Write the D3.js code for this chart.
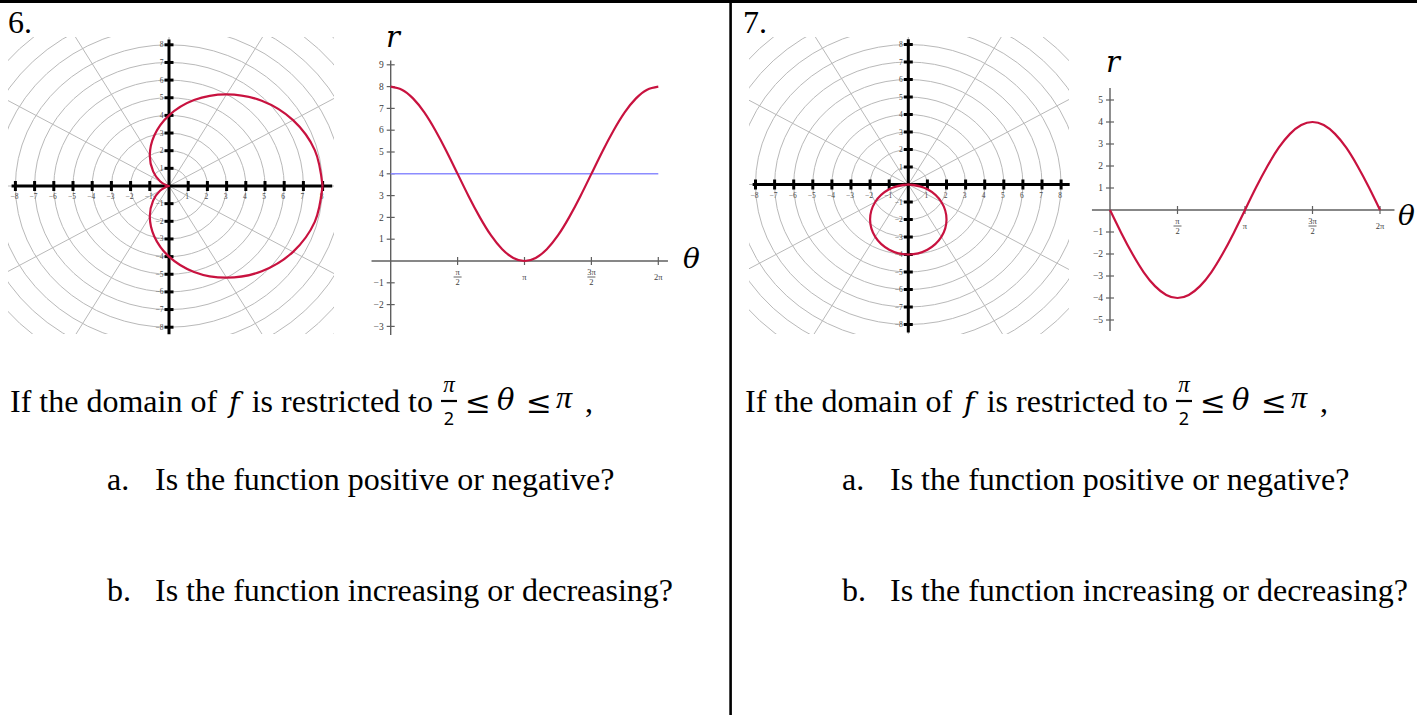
<!DOCTYPE html>
<html>
<head>
<meta charset="utf-8">
<script src="https://cdn.jsdelivr.net/npm/d3@7"></script>
<style>
  html, body { margin: 0; padding: 0; background: #fff; }
  svg { display: block; }
</style>
</head>
<body>
<svg id="sheet" width="1417" height="715"></svg>
<script>
// ---- data -------------------------------------------------------------
// sample angles, counted in steps of π/12 from 0 to 2π
const thetaTwelfths = [0,1,2,3,4,5,6,7,8,9,10,11,12,13,14,15,16,17,18,19,20,21,22,23,24];

// problem 6: r = f(θ), cardioid
const cardioidR = [8.00, 7.86, 7.46, 6.83, 6.00, 5.04, 4.00, 2.96, 2.00, 1.17, 0.54, 0.14, 0.00,
                   0.14, 0.54, 1.17, 2.00, 2.96, 4.00, 5.04, 6.00, 6.83, 7.46, 7.86, 8.00];
// horizontal reference level on the r–θ graph of problem 6
const midlineR = 4;

// problem 7: r = f(θ), circle below the pole
const circleR = [0.00, -1.04, -2.00, -2.83, -3.46, -3.86, -4.00, -3.86, -3.46, -2.83, -2.00, -1.04, 0.00,
                 1.04, 2.00, 2.83, 3.46, 3.86, 4.00, 3.86, 3.46, 2.83, 2.00, 1.04, 0.00];

// polar grid
const polarTicks = [-8,-7,-6,-5,-4,-3,-2,-1,1,2,3,4,5,6,7,8];
const gridRings = [1,2,3,4,5,6,7,8,9,10,11,12,13];
const gridSpokesDeg = [0,30,60,90,120,150,180,210,240,270,300,330];

// r–θ graphs
const rTicks6 = [-3,-2,-1,1,2,3,4,5,6,7,8,9];
const rTicks7 = [-5,-4,-3,-2,-1,1,2,3,4,5];
const thetaTickHalves = [1, 2, 3, 4];           // multiples of π/2
const thetaTickNum = ["π", "π", "3π", "2π"];
const thetaTickDen = ["2", "", "2", ""];

// ---- styles ----------------------------------------------------------
const RED = "#c8123f";
const BLUE = "#8c8cff";
const GRID = "#b9b9b9";
const SERIF = "'Liberation Serif', 'Times New Roman', serif";
const MATH = "'DejaVu Serif', serif";

const svg = d3.select("#sheet");

// table frame
svg.append("rect").attr("x", 0).attr("y", 0).attr("width", 1417).attr("height", 3).attr("fill", "#000");
svg.append("rect").attr("x", 729.3).attr("y", 0).attr("width", 2.6).attr("height", 715).attr("fill", "#000");

// ---- polar plot --------------------------------------------------------
function polarPlot(cfg, rValues) {
  const g = svg.append("g");
  const x = d3.scaleLinear().domain([-8, 8]).range([cfg.cx - 8 * cfg.ux, cfg.cx + 8 * cfg.ux]);
  const y = d3.scaleLinear().domain([-8, 8]).range([cfg.cy + 8 * cfg.uy, cfg.cy - 8 * cfg.uy]);

  g.append("clipPath").attr("id", cfg.id)
    .append("rect").attr("x", cfg.clip[0]).attr("y", cfg.clip[1])
    .attr("width", cfg.clip[2]).attr("height", cfg.clip[3]);

  const grid = g.append("g").attr("clip-path", `url(#${cfg.id})`)
    .attr("fill", "none").attr("stroke", GRID).attr("stroke-width", 1);

  grid.selectAll("ellipse").data(gridRings).join("ellipse")
    .attr("cx", x(0)).attr("cy", y(0))
    .attr("rx", d => x(d) - x(0)).attr("ry", d => y(0) - y(d));

  grid.selectAll("line").data(gridSpokesDeg).join("line")
    .attr("x1", x(0)).attr("y1", y(0))
    .attr("x2", d => x(16 * Math.cos(d * Math.PI / 180)))
    .attr("y2", d => y(16 * Math.sin(d * Math.PI / 180)));

  // axes
  const ax = g.append("g").attr("stroke", "#000");
  ax.append("line").attr("x1", x(cfg.xExt[0])).attr("x2", x(cfg.xExt[1]))
    .attr("y1", y(0)).attr("y2", y(0)).attr("stroke-width", 3);
  ax.append("line").attr("y1", y(cfg.yExt[0])).attr("y2", y(cfg.yExt[1]))
    .attr("x1", x(0)).attr("x2", x(0)).attr("stroke-width", 3);
  ax.selectAll(".tx").data(polarTicks).join("line").attr("class", "tx")
    .attr("x1", d => x(d)).attr("x2", d => x(d))
    .attr("y1", y(0) - 5).attr("y2", y(0) + 5).attr("stroke-width", 3);
  ax.selectAll(".ty").data(polarTicks).join("line").attr("class", "ty")
    .attr("y1", d => y(d)).attr("y2", d => y(d))
    .attr("x1", x(0) - 4.5).attr("x2", x(0) + 4.5).attr("stroke-width", 3);

  const lab = g.append("g").attr("font-family", SERIF).attr("font-size", 7.5).attr("fill", "#4a4a4a");
  lab.selectAll(".lx").data(polarTicks).join("text").attr("class", "lx")
    .attr("x", d => x(d) - 1).attr("y", y(0) + 13).attr("text-anchor", "middle")
    .text(d => d < 0 ? "−" + Math.abs(d) : d);
  lab.selectAll(".ly").data(polarTicks).join("text").attr("class", "ly")
    .attr("x", x(0) - 5.5).attr("y", d => y(d) + 2.5).attr("text-anchor", "end")
    .text(d => d < 0 ? "−" + Math.abs(d) : d);

  // the curve r = f(θ)
  const pts = thetaTwelfths.map((k, i) => {
    const t = k * Math.PI / 12;
    return [x(rValues[i] * Math.cos(t)), y(rValues[i] * Math.sin(t))];
  });
  g.append("path").attr("d", d3.line().curve(d3.curveCatmullRom.alpha(0.5))(pts))
    .attr("fill", "none").attr("stroke", RED).attr("stroke-width", 2.2);
}

// ---- r versus θ graph --------------------------------------------------
function rthetaPlot(cfg, rValues, rTicks, midline) {
  const g = svg.append("g");
  const x = d3.scaleLinear().domain([0, 2 * Math.PI]).range([cfg.x0, cfg.x0 + 4 * cfg.uHalf]);
  const y = d3.scaleLinear().domain([0, 1]).range([cfg.y0, cfg.y0 - cfg.uy]);
  const AX = "#5f5f5f";

  g.append("line").attr("x1", x(cfg.xExt[0])).attr("x2", x(cfg.xExt[1]))
    .attr("y1", y(0)).attr("y2", y(0)).attr("stroke", AX).attr("stroke-width", 1.4);
  g.append("line").attr("x1", x(0)).attr("x2", x(0))
    .attr("y1", y(cfg.yExt[0])).attr("y2", y(cfg.yExt[1])).attr("stroke", AX).attr("stroke-width", 1.4);

  g.selectAll(".ty").data(rTicks).join("line").attr("class", "ty")
    .attr("x1", x(0) - 4).attr("x2", x(0) + 4)
    .attr("y1", d => y(d)).attr("y2", d => y(d)).attr("stroke", AX).attr("stroke-width", 1.2);
  g.selectAll(".tx").data(thetaTickHalves).join("line").attr("class", "tx")
    .attr("x1", d => x(d * Math.PI / 2)).attr("x2", d => x(d * Math.PI / 2))
    .attr("y1", y(0) - 4).attr("y2", y(0) + 4).attr("stroke", AX).attr("stroke-width", 1.2);

  const lab = g.append("g").attr("font-family", SERIF).attr("fill", "#3c3c3c");
  lab.selectAll(".ly").data(rTicks).join("text").attr("class", "ly")
    .attr("x", x(0) - 7).attr("y", d => y(d) + 3.2).attr("text-anchor", "end")
    .attr("font-size", 9.5).text(d => d < 0 ? "−" + Math.abs(d) : d);

  thetaTickHalves.forEach((h, i) => {
    const cx = x(h * Math.PI / 2);
    if (thetaTickDen[i]) {
      lab.append("text").attr("x", cx).attr("y", y(0) + 14).attr("text-anchor", "middle")
        .attr("font-size", 8.5).text(thetaTickNum[i]);
      lab.append("line").attr("x1", cx - 4).attr("x2", cx + 4)
        .attr("y1", y(0) + 16).attr("y2", y(0) + 16).attr("stroke", "#3c3c3c").attr("stroke-width", 0.8);
      lab.append("text").attr("x", cx).attr("y", y(0) + 23.5).attr("text-anchor", "middle")
        .attr("font-size", 8.5).text(thetaTickDen[i]);
    } else {
      lab.append("text").attr("x", cx).attr("y", y(0) + 19).attr("text-anchor", "middle")
        .attr("font-size", 8.5).text(thetaTickNum[i]);
    }
  });

  if (midline !== undefined) {
    g.append("line").attr("x1", x(0)).attr("x2", x(2 * Math.PI))
      .attr("y1", y(midline)).attr("y2", y(midline))
      .attr("stroke", BLUE).attr("stroke-width", 1.5);
  }

  const pts = thetaTwelfths.map((k, i) => [x(k * Math.PI / 12), y(rValues[i])]);
  g.append("path").attr("d", d3.line().curve(d3.curveNatural)(pts))
    .attr("fill", "none").attr("stroke", RED).attr("stroke-width", 2.2);

  // axis names
  g.append("text").attr("x", cfg.rLabel[0]).attr("y", cfg.rLabel[1])
    .attr("font-family", MATH).attr("font-style", "italic").attr("font-size", 29).text("r");
  g.append("text").attr("x", cfg.tLabel[0]).attr("y", cfg.tLabel[1])
    .attr("font-family", MATH).attr("font-style", "italic").attr("font-size", 28).text("θ");
}

// ---- question text -----------------------------------------------------
function questionBlock(dx, num) {
  const g = svg.append("g").attr("transform", `translate(${dx},0)`)
    .attr("font-family", SERIF).attr("fill", "#000");
  g.append("text").attr("x", 8).attr("y", 33).attr("font-size", 32).text(num + ".");

  const fs = 32;
  g.append("text").attr("x", 10).attr("y", 412).attr("font-size", fs).text("If the domain of");
  g.append("text").attr("x", 229).attr("y", 412).attr("font-size", 28)
    .attr("font-family", MATH).attr("font-style", "italic").text("f");
  g.append("text").attr("x", 433).attr("y", 412).attr("font-size", fs)
    .attr("text-anchor", "end").text("is restricted to");

  // π/2 ≤ θ ≤ π ,
  const m = g.append("g").attr("font-family", MATH);
  m.append("text").attr("x", 449).attr("y", 392).attr("font-size", 23)
    .attr("font-family", SERIF).attr("font-style", "italic").attr("text-anchor", "middle").text("π");
  m.append("line").attr("x1", 441).attr("x2", 457).attr("y1", 401).attr("y2", 401)
    .attr("stroke", "#000").attr("stroke-width", 2.2);
  m.append("text").attr("x", 449).attr("y", 425).attr("font-size", 18)
    .attr("font-family", "'Noto Sans', sans-serif").attr("text-anchor", "middle").text("2");
  m.append("text").attr("x", 465).attr("y", 413).attr("font-size", 31).text("≤");
  m.append("text").attr("x", 497).attr("y", 410).attr("font-size", 29).attr("font-style", "italic").text("θ");
  m.append("text").attr("x", 526).attr("y", 413).attr("font-size", 31).text("≤");
  m.append("text").attr("x", 556).attr("y", 408).attr("font-size", 32)
    .attr("font-family", SERIF).attr("font-style", "italic").text("π");
  g.append("text").attr("x", 585).attr("y", 412).attr("font-size", fs).text(",");

  g.append("text").attr("x", 107).attr("y", 490).attr("font-size", fs).text("a.");
  g.append("text").attr("x", 155).attr("y", 490).attr("font-size", fs).text("Is the function positive or negative?");
  g.append("text").attr("x", 107).attr("y", 601).attr("font-size", fs).text("b.");
  g.append("text").attr("x", 155).attr("y", 601).attr("font-size", fs).text("Is the function increasing or decreasing?");
}

// ---- layout ------------------------------------------------------------
polarPlot({ id: "clip6", cx: 169, cy: 186, ux: 19.2, uy: 17.65,
            clip: [8, 37, 326, 297], xExt: [-8.2, 8.5], yExt: [-8.4, 8.3] }, cardioidR);
rthetaPlot({ x0: 390.7, uHalf: 66.9, y0: 261, uy: 21.8,
             xExt: [-0.45, 6.51], yExt: [-3.4, 9.2], rLabel: [386, 47], tLabel: [683, 268] },
           cardioidR, rTicks6, midlineR);

polarPlot({ id: "clip7", cx: 908.3, cy: 184.5, ux: 19.1, uy: 17.5,
            clip: [749, 37, 320, 297], xExt: [-8.15, 8.45], yExt: [-8.45, 8.3] }, circleR);
rthetaPlot({ x0: 1110, uHalf: 67.5, y0: 210, uy: 22,
             xExt: [-0.42, 6.62], yExt: [-5.5, 5.55], rLabel: [1106, 72], tLabel: [1398, 225] },
           circleR, rTicks7);

questionBlock(0, 6);
questionBlock(735, 7);
</script>
</body>
</html>
